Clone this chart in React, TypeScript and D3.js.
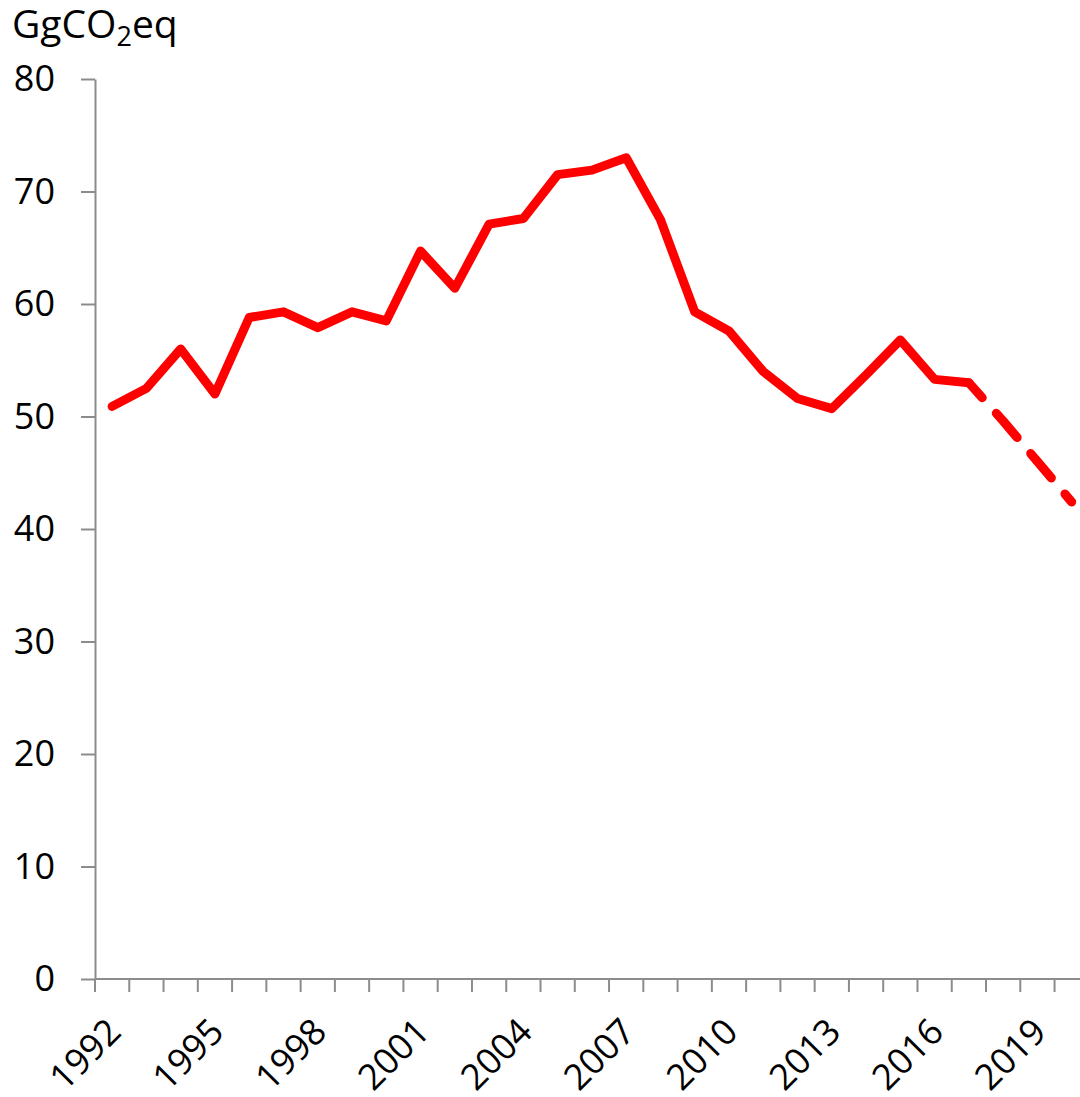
import { useEffect, useRef } from 'react';
import * as d3 from 'd3';

const years = [
  1992, 1993, 1994, 1995, 1996, 1997, 1998, 1999, 2000, 2001,
  2002, 2003, 2004, 2005, 2006, 2007, 2008, 2009, 2010, 2011,
  2012, 2013, 2014, 2015, 2016, 2017, 2018, 2019, 2020,
];
const emissions = [
  50.9, 52.5, 56.0, 52.0, 58.8, 59.3, 57.9, 59.3, 58.5, 64.7,
  61.4, 67.1, 67.6, 71.5, 71.9, 73.0, 67.5, 59.3, 57.6, 54.0,
  51.6, 50.7, 53.7, 56.8, 53.3, 53.0, 49.6, 46.0, 42.4,
];
// years from here on are projections, drawn dashed
const projectionStart = 2017;
const labelYears = [1992, 1995, 1998, 2001, 2004, 2007, 2010, 2013, 2016, 2019];
const yTicks = [0, 10, 20, 30, 40, 50, 60, 70, 80];

const FONT = "'Open Sans', 'Noto Sans', sans-serif";

export default function App() {
  const svgRef = useRef<SVGSVGElement>(null);
  const width = 1080;
  const height = 1097;

  useEffect(() => {
    if (!svgRef.current) return;
    const svg = d3.select(svgRef.current);
    svg.selectAll('*').remove();

    const left = 95;
    const top = 79;
    const bottom = 979;
    const step = 34.27;

    const x = d3.scaleBand<number>()
      .domain(years)
      .range([left, left + step * years.length])
      .paddingInner(0)
      .paddingOuter(0);
    const y = d3.scaleLinear().domain([0, 80]).range([bottom, top]);
    const cx = (yr: number) => (x(yr) ?? 0) + x.bandwidth() / 2;

    const axisColor = '#8c8c8c';

    // y axis
    const yAxis = svg.append('g')
      .attr('transform', `translate(${left},0)`)
      .call(d3.axisLeft(y).tickValues(yTicks).tickSize(14).tickPadding(26).tickSizeOuter(0));
    yAxis.select('.domain').attr('stroke', axisColor).attr('stroke-width', 2);
    yAxis.selectAll('.tick line').attr('stroke', axisColor).attr('stroke-width', 2);
    yAxis.selectAll('.tick text')
      .attr('font-family', FONT)
      .attr('font-size', 36)
      .attr('fill', '#000');

    // x axis line and boundary ticks
    const xg = svg.append('g');
    xg.append('line')
      .attr('x1', left).attr('x2', left + step * years.length)
      .attr('y1', bottom).attr('y2', bottom)
      .attr('stroke', axisColor).attr('stroke-width', 2);
    xg.selectAll('line.xtick')
      .data(years)
      .join('line')
      .attr('class', 'xtick')
      .attr('x1', (d) => x(d) ?? 0).attr('x2', (d) => x(d) ?? 0)
      .attr('y1', bottom).attr('y2', bottom + 13)
      .attr('stroke', axisColor).attr('stroke-width', 2);

    xg.selectAll('text.xlabel')
      .data(labelYears)
      .join('text')
      .attr('class', 'xlabel')
      .attr('transform', (d) => `translate(${cx(d) + 2},${bottom + 46}) rotate(-45)`)
      .attr('text-anchor', 'end')
      .attr('dy', '0.35em')
      .attr('font-family', FONT)
      .attr('font-size', 36)
      .attr('fill', '#000')
      .text((d) => d);

    // unit title
    const title = svg.append('text')
      .attr('x', 12)
      .attr('y', 38)
      .attr('font-family', FONT)
      .attr('font-size', 39)
      .attr('fill', '#000');
    title.append('tspan').text('GgCO');
    title.append('tspan').attr('font-size', 27).attr('dy', 8).text('2');
    title.append('tspan').attr('dy', -8).text('eq');

    // series
    const pts = years.map((yr, i) => ({ yr, v: emissions[i] }));
    const line = d3.line<{ yr: number; v: number }>()
      .x((d) => cx(d.yr))
      .y((d) => y(d.v));

    svg.append('path')
      .datum(pts.filter((d) => d.yr <= projectionStart))
      .attr('d', line)
      .attr('fill', 'none')
      .attr('stroke', '#ff0000')
      .attr('stroke-width', 9)
      .attr('stroke-linejoin', 'round')
      .attr('stroke-linecap', 'round');

    svg.append('path')
      .datum(pts.filter((d) => d.yr >= projectionStart))
      .attr('d', line)
      .attr('fill', 'none')
      .attr('stroke', '#ff0000')
      .attr('stroke-width', 9)
      .attr('stroke-dasharray', '32 21')
      .attr('stroke-dashoffset', 12)
      .attr('stroke-linejoin', 'round')
      .attr('stroke-linecap', 'round');
  }, []);

  return (
    <svg
      ref={svgRef}
      width={width}
      height={height}
      style={{ position: 'absolute', left: 0, top: 0, background: '#fff' }}
    />
  );
}
